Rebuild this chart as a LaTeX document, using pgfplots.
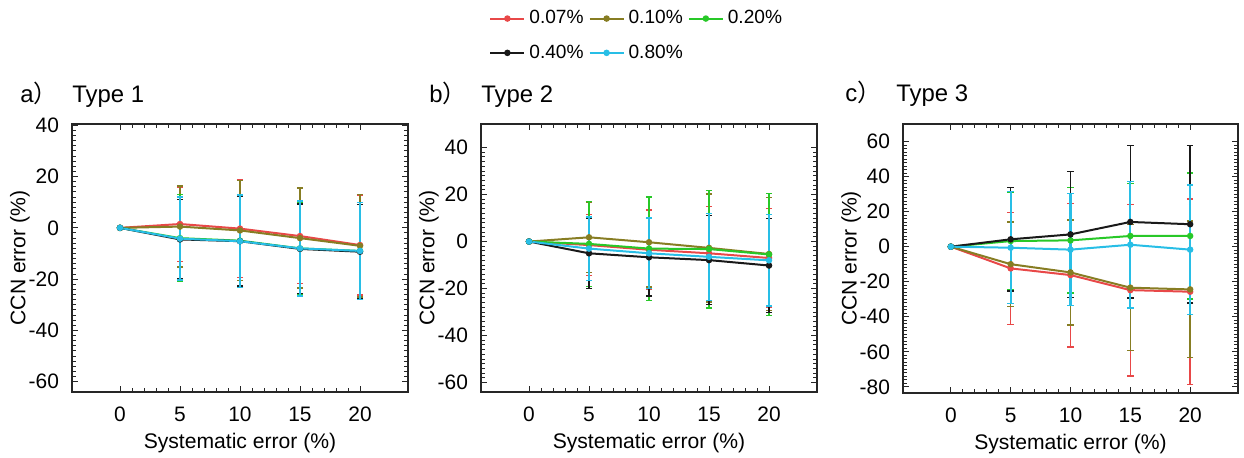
\documentclass[border=0pt]{standalone}
\usepackage{fontspec}
\setmainfont{Liberation Sans}
\newfontfamily\cjk{Noto Sans CJK SC}
\usepackage{pgfplots}
\pgfplotsset{compat=1.18}

\definecolor{cred}{RGB}{232,72,72}
\definecolor{colive}{RGB}{135,125,35}
\definecolor{cgreen}{RGB}{40,200,40}
\definecolor{cblack}{RGB}{25,25,25}
\definecolor{ccyan}{RGB}{40,190,230}

\tikzset{ttl/.style={anchor=base west, inner sep=0pt, font=\fontsize{12}{14}\selectfont}}

\pgfplotsset{
  panel/.style={
    scale only axis, width=168bp, height=134bp,
    xmin=-4, xmax=24, xtick={0,5,10,15,20},
    minor x tick num=4, minor y tick num=9,
    tick align=inside, xtick pos=both, ytick pos=both,
    major tick length=3bp, minor tick length=2bp,
    axis line style={line width=0.8bp, black!85},
    every tick/.style={black!85, line width=0.5bp},
    tick label style={font=\fontsize{10.5}{12}\selectfont},
    /pgf/number format/assume math mode=true,
    xticklabel style={yshift=-4bp},
    yticklabel style={xshift=-3bp},
    label style={font=\fontsize{10.6}{12}\selectfont},
    xlabel={Systematic error (\%)},
    ylabel={CCN error (\%)},
    xlabel style={at={(axis description cs:0.5,0)}, anchor=base, yshift=-28bp},
    ylabel style={at={(axis description cs:-0.155,0.5)}, anchor=center},
    clip=false,
  },
  ser/.style={color=#1, line width=1bp, mark=*, mark size=1.1bp,
    error bars/y dir=both, error bars/y explicit,
    error bars/error bar style={line width=0.8bp, #1},
    error bars/error mark options={rotate=90, mark size=1.6bp, line width=0.7bp, #1}},
}

\begin{document}
\begin{tikzpicture}
\useasboundingbox (0,0) rectangle (622bp,229bp);

% a) Type 1
\begin{axis}[panel, at={(36bp,33bp)}, anchor=south west,
  ymin=-64, ymax=40.5, ytick={-60,-40,-20,0,20,40}]
\addplot[ser=cred] coordinates {(0,0)+-(0,0) (5,1.5)+-(0,14.5) (10,-0.3)+-(0,19) (15,-3.2)+-(0,18.5) (20,-6.7)+-(0,19.5)};
\addplot[ser=colive] coordinates {(0,0)+-(0,0) (5,0.5)+-(0,15.8) (10,-1)+-(0,19.5) (15,-4)+-(0,19.5) (20,-7)+-(0,20)};
\addplot[ser=cgreen] coordinates {(0,0)+-(0,0) (5,-4)+-(0,17) (10,-5)+-(0,18) (15,-8)+-(0,18) (20,-9)+-(0,19)};
\addplot[ser=cblack] coordinates {(0,0)+-(0,0) (5,-4.5)+-(0,15.5) (10,-5.2)+-(0,17.5) (15,-8.2)+-(0,17.5) (20,-9.3)+-(0,18.5)};
\addplot[ser=ccyan, error bars/error bar style={line width=1.1bp, ccyan}] coordinates {(0,0)+-(0,0) (5,-4.2)+-(0,16.2) (10,-5.2)+-(0,18) (15,-8)+-(0,18.5) (20,-9)+-(0,19)};
\node[ttl] at ([yshift=11bp]rel axis cs:0,1) {Type 1};
\node[ttl] at ([xshift=-26bp,yshift=11bp]rel axis cs:0,1) {a{\cjk ）}};
\end{axis}

% b) Type 2 (carries the legend)
\begin{axis}[panel, at={(240.5bp,33bp)}, anchor=south west,
  ymin=-64, ymax=50, ytick={-60,-40,-20,0,20,40},
  legend columns=3,
  legend style={at={(axis description cs:0,1)}, anchor=north west,
    xshift=1bp, yshift=61bp, draw=none, fill=none,
    font=\fontsize{9.6}{11}\selectfont, row sep=5bp,
    /tikz/every even column/.append style={column sep=0.5bp}},
  legend cell align=left]
\addplot[ser=cred] coordinates {(0,0)+-(0,0) (5,-1.5)+-(0,13) (10,-3.5)+-(0,17) (15,-5)+-(0,20) (20,-7)+-(0,21)};
\addlegendentry{0.07\%}
\addplot[ser=colive] coordinates {(0,0)+-(0,0) (5,1.8)+-(0,15) (10,-0.3)+-(0,19) (15,-2.7)+-(0,23) (20,-5.3)+-(0,24)};
\addlegendentry{0.10\%}
\addplot[ser=cgreen] coordinates {(0,0)+-(0,0) (5,-1)+-(0,18) (10,-3)+-(0,22) (15,-3.2)+-(0,25) (20,-5.5)+-(0,26)};
\addlegendentry{0.20\%}
\addplot[ser=cblack] coordinates {(0,0)+-(0,0) (5,-5)+-(0,15) (10,-6.7)+-(0,16.5) (15,-7.9)+-(0,19) (20,-10.2)+-(0,20)};
\addlegendentry{0.40\%}
\addplot[ser=ccyan, error bars/error bar style={line width=1.1bp, ccyan}] coordinates {(0,0)+-(0,0) (5,-3)+-(0,13.5) (10,-5)+-(0,15) (15,-6.5)+-(0,18.5) (20,-8)+-(0,19.5)};
\addlegendentry{0.80\%}
\node[ttl] at ([yshift=11bp]rel axis cs:0,1) {Type 2};
\node[ttl] at ([xshift=-26bp,yshift=11bp]rel axis cs:0,1) {b{\cjk ）}};
\end{axis}

% c) Type 3
\begin{axis}[panel, at={(451.5bp,32.5bp)}, anchor=south west,
  width=167.5bp, height=134.5bp,
  ymin=-83.5, ymax=70, ytick={-80,-60,-40,-20,0,20,40,60}]
\addplot[ser=cred] coordinates {(0,0)+-(0,0) (5,-12.4)+-(0,32) (10,-16.2)+-(0,41) (15,-24.8)+-(0,49) (20,-25.7)+-(0,53)};
\addplot[ser=colive] coordinates {(0,0)+-(0,0) (5,-10)+-(0,24) (10,-14.7)+-(0,30) (15,-23.4)+-(0,36) (20,-24.4)+-(0,39)};
\addplot[ser=cgreen] coordinates {(0,0)+-(0,0) (5,3.2)+-(0,28) (10,3.6)+-(0,30) (15,6.1)+-(0,30) (20,6.1)+-(0,36)};
\addplot[ser=cblack] coordinates {(0,0)+-(0,0) (5,4.2)+-(0,29.5) (10,7)+-(0,36) (15,14.1)+-(0,43.5) (20,12.8)+-(0,45)};
\addplot[ser=ccyan, error bars/error bar style={line width=1.1bp, ccyan}] coordinates {(0,0)+-(0,0) (5,-0.6)+-(0,32) (10,-1.7)+-(0,32) (15,1.1)+-(0,36) (20,-1.7)+-(0,37)};
\node[ttl] at ([xshift=-3.5bp,yshift=11bp]rel axis cs:0,1) {Type 3};
\node[ttl] at ([xshift=-29bp,yshift=11bp]rel axis cs:0,1) {c{\cjk ）}};
\end{axis}
\end{tikzpicture}
\end{document}
